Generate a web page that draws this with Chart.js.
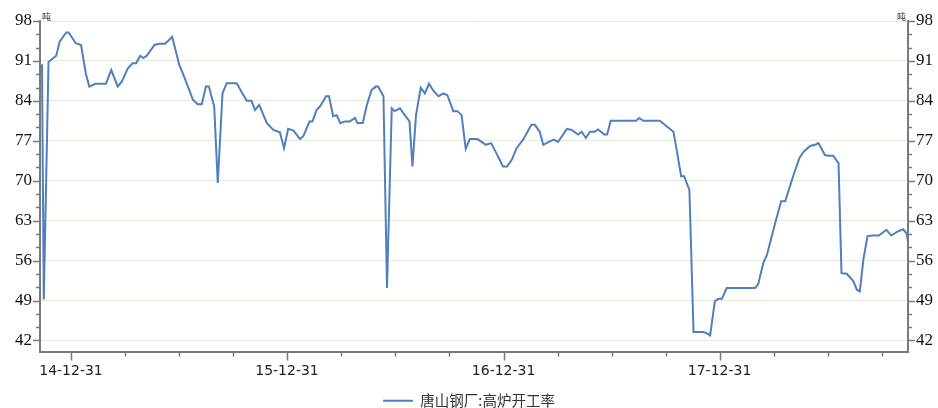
<!DOCTYPE html>
<html>
<head>
<meta charset="utf-8">
<script src="https://cdn.jsdelivr.net/npm/chart.js@4.4.1/dist/chart.umd.min.js"></script>
<style>
  html, body { margin: 0; padding: 0; background: #fff; }
  #wrap { width: 938px; height: 408px; position: relative; }
</style>
</head>
<body>
<div id="wrap"><canvas id="chart"></canvas></div>
<script>
// days counted from 2014-12-31
const seriesName = "唐山钢厂:高炉开工率";
const days = [
  -52, -49, -46, -38, -25, -19, -8, -4, 8, 17, 25, 31, 41, 59, 68, 79, 86, 96, 104, 110,
  117, 122, 128, 141, 149, 159, 171, 183, 191, 206, 214, 221, 228, 233, 242, 248, 256, 263, 280, 288,
  297, 305, 311, 318, 331, 342, 353, 360, 367, 376, 387, 393, 403, 408, 415, 422, 431, 436, 443, 449,
  455, 463, 471, 480, 484, 493, 500, 508, 515, 519, 528, 534, 542, 547, 556, 564, 572, 577, 583, 591,
  598, 605, 613, 621, 629, 636, 646, 653, 660, 667, 674, 687, 701, 710, 719, 730, 737, 745, 753, 764,
  778, 784, 792, 798, 809, 816, 823, 838, 846, 857, 863, 870, 877, 885, 891, 901, 906, 912, 955, 960,
  967, 995, 1007, 1018, 1024, 1031, 1036, 1045, 1052, 1068, 1074, 1080, 1088, 1094, 1100, 1108, 1156, 1161, 1170, 1176,
  1190, 1200, 1207, 1212, 1221, 1231, 1238, 1249, 1257, 1263, 1274, 1280, 1288, 1297, 1302, 1311, 1322, 1328, 1333, 1339,
  1346, 1355, 1365, 1378, 1386, 1395, 1406, 1412, 1415
];
const rates = [
  89.9, 90.2, 49.2, 90.8, 91.9, 94.4, 96.0, 96.0, 94.1, 93.8, 88.8, 86.5, 87.0, 87.0, 89.4, 86.5, 87.4, 89.7, 90.6, 90.6,
  91.9, 91.5, 91.9, 93.8, 94.0, 94.0, 95.2, 90.3, 88.3, 84.2, 83.4, 83.4, 86.5, 86.5, 83.0, 69.6, 85.3, 87.1, 87.1, 85.6,
  84.0, 84.0, 82.4, 83.3, 80.1, 78.9, 78.5, 75.7, 79.1, 78.8, 77.3, 77.9, 80.4, 80.4, 82.4, 83.2, 84.8, 84.8, 81.3, 81.5,
  80.1, 80.4, 80.4, 81.0, 80.1, 80.1, 83.3, 85.9, 86.5, 86.5, 84.8, 51.2, 82.7, 82.2, 82.7, 81.5, 80.4, 72.5, 81.5, 86.3,
  85.3, 87.0, 85.7, 84.8, 85.3, 85.0, 82.2, 82.2, 81.5, 75.6, 77.3, 77.3, 76.3, 76.6, 74.8, 72.5, 72.5, 73.7, 75.7, 77.2,
  79.8, 79.8, 78.6, 76.3, 76.9, 77.2, 76.8, 79.1, 78.9, 78.1, 78.6, 77.5, 78.6, 78.6, 79.0, 78.1, 78.1, 80.5, 80.5, 81.0,
  80.5, 80.5, 79.5, 78.6, 75.1, 70.8, 70.8, 68.4, 43.5, 43.5, 43.3, 42.9, 48.9, 49.3, 49.3, 51.2, 51.2, 51.8, 55.6, 57.0,
  62.6, 66.4, 66.4, 68.1, 71.0, 74.0, 75.1, 76.1, 76.3, 76.6, 74.5, 74.4, 74.4, 73.1, 53.8, 53.7, 52.4, 50.9, 50.6, 56.2,
  60.3, 60.4, 60.4, 61.4, 60.4, 61.0, 61.5, 60.8, 59.0
];
const yearTickDays = [0, 365, 731, 1096];
const yearTickLabels = ["14-12-31", "15-12-31", "16-12-31", "17-12-31"];
const yTickValues = [42, 49, 56, 63, 70, 77, 84, 91, 98];
const unitLabel = "吨";

const lineColor = "#4f7fbd";
const axisColor = "#7a7a7a";

const points = days.map((d, i) => ({ x: d, y: rates[i] }));

// quarter ticks between year ticks
const xTicks = [];
yearTickDays.forEach((d, i) => {
  const next = i < yearTickDays.length - 1 ? yearTickDays[i + 1] : d + 365;
  for (let q = 0; q < 4; q++) {
    xTicks.push({ value: d + (next - d) * q / 4, major: q === 0, label: q === 0 ? yearTickLabels[i] : "" });
  }
});
const yTicks = [];
for (let i = 0; i < yTickValues.length; i++) {
  yTicks.push({ value: yTickValues[i], major: true });
  if (i < yTickValues.length - 1) {
    const step = (yTickValues[i + 1] - yTickValues[i]) / 3;
    yTicks.push({ value: yTickValues[i] + step, major: false });
    yTicks.push({ value: yTickValues[i] + step * 2, major: false });
  }
}

const tickMarks = {
  id: "tickMarks",
  afterDraw(chart) {
    const ctx = chart.ctx;
    ctx.save();
    ctx.strokeStyle = axisColor;
    ctx.lineWidth = 1.5;
    const xs = chart.scales.x;
    xs.ticks.forEach(t => {
      const px = Math.round(xs.getPixelForValue(t.value)) + 0.5;
      ctx.beginPath();
      ctx.moveTo(px, xs.top);
      ctx.lineTo(px, xs.top + (t.major ? 9 : 5));
      ctx.stroke();
    });
    ["y", "y2"].forEach(id => {
      const s = chart.scales[id];
      const edge = id === "y" ? s.right : s.left;
      const dir = id === "y" ? -1 : 1;
      s.ticks.forEach(t => {
        const py = Math.round(s.getPixelForValue(t.value)) + 0.5;
        ctx.beginPath();
        ctx.moveTo(edge, py);
        ctx.lineTo(edge + dir * (t.major ? 7 : 4), py);
        ctx.stroke();
      });
    });
    ctx.fillStyle = "#333";
    ctx.font = "9px 'Noto Sans CJK SC'";
    ctx.textBaseline = "bottom";
    ctx.textAlign = "left";
    ctx.fillText(unitLabel, chart.chartArea.left + 2, chart.chartArea.top);
    ctx.textAlign = "right";
    ctx.fillText(unitLabel, chart.chartArea.right - 2, chart.chartArea.top);
    ctx.restore();
  }
};

const yScale = (position, width) => ({
  type: "linear",
  position: position,
  min: 40.07,
  max: 98,
  afterBuildTicks: (scale) => { scale.ticks = yTicks.map(t => ({ value: t.value, major: t.major })); },
  afterFit: (scale) => { scale.width = width; },
  grid: {
    drawTicks: false,
    color: (c) => (position === "left" && c.tick && c.tick.major) ? "#e9e9de" : "rgba(0,0,0,0)",
    lineWidth: 1
  },
  border: { display: true, color: axisColor, width: 2 },
  ticks: {
    padding: 8,
    autoSkip: false,
    color: "#111",
    font: { family: "'Liberation Serif'", size: 17 },
    callback: function (value, index) { return yTicks[index].major ? String(yTicks[index].value) : ""; }
  }
});

new Chart(document.getElementById("chart"), {
  type: "line",
  data: {
    datasets: [{
      label: seriesName,
      data: points,
      borderColor: lineColor,
      backgroundColor: lineColor,
      borderWidth: 2,
      pointRadius: 0,
      tension: 0,
      fill: false
    }]
  },
  options: {
    responsive: true,
    maintainAspectRatio: false,
    animation: false,
    layout: { padding: { top: 21, left: 0, right: 0, bottom: -10 } },
    scales: {
      x: {
        type: "linear",
        min: -52.4,
        max: 1414.4,
        afterBuildTicks: (scale) => { scale.ticks = xTicks.map(t => ({ value: t.value, major: t.major })); },
        afterFit: (scale) => { scale.height = 41; },
        grid: { display: false, drawTicks: false },
        border: { display: true, color: axisColor, width: 2 },
        ticks: {
          padding: 11,
          maxRotation: 0,
          autoSkip: false,
          color: "#222",
          font: { family: "'DejaVu Sans'", size: 14 },
          callback: function (value, index) { return xTicks[index].label; }
        }
      },
      y: yScale("left", 40),
      y2: yScale("right", 30)
    },
    plugins: {
      legend: {
        position: "bottom",
        labels: {
          usePointStyle: true,
          pointStyle: "line",
          pointStyleWidth: 30,
          boxHeight: 2,
          padding: 1,
          color: "#333",
          font: { family: "'Noto Sans CJK SC'", size: 14.5 }
        }
      },
      tooltip: { enabled: false }
    }
  },
  plugins: [tickMarks]
});
</script>
</body>
</html>
